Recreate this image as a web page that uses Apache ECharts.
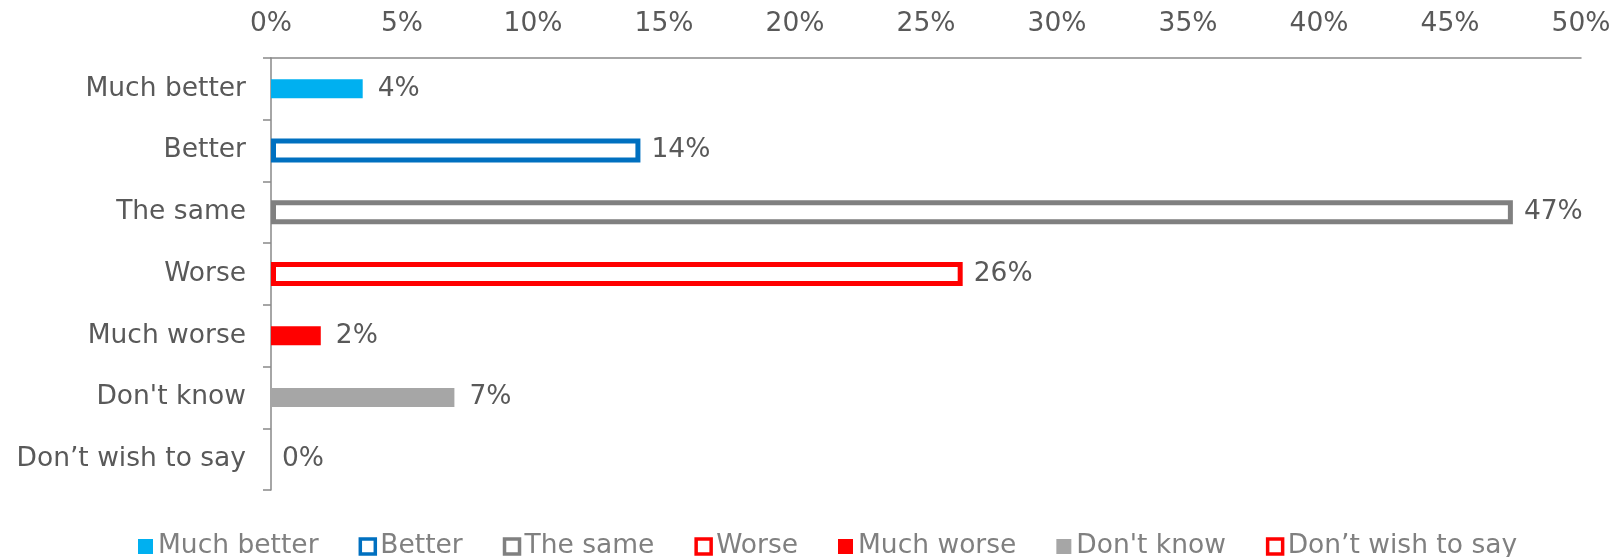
<!DOCTYPE html>
<html>
<head>
<meta charset="utf-8">
<script src="https://cdn.jsdelivr.net/npm/echarts@6/dist/echarts.min.js"></script>
<style>
html,body{margin:0;padding:0;background:#fff;}
#chart{width:1624px;height:557px;}
</style>
</head>
<body>
<div id="chart"></div>
<script>
const categories = ['Much better', 'Better', 'The same', 'Worse', 'Much worse', "Don't know", 'Don\u2019t wish to say'];
const values = [3.5, 14.1, 47.4, 26.4, 1.9, 7.0, 0];
const xTicks = [0, 5, 10, 15, 20, 25, 30, 35, 40, 45, 50];

const fills   = ['#00B0F0', '#FFFFFF', '#FFFFFF', '#FFFFFF', '#FF0000', '#A6A6A6', '#FFFFFF'];
const borders = ['#00B0F0', '#0070C0', '#808080', '#FF0000', '#FF0000', '#A6A6A6', '#FF0000'];
const outlined = [false, true, true, true, false, false, true];

const FONT = 'DejaVu Sans';
const FS = 26.5;
const series = categories.map((name, i) => ({
  name: name,
  type: 'bar',
  yAxisIndex: outlined[i] ? 1 : 0,
  stack: outlined[i] ? 'outlined' : 'filled',
  barWidth: outlined[i] ? 24 : 19,
  itemStyle: outlined[i]
    ? { color: fills[i], borderColor: borders[i], borderWidth: 5 }
    : { color: fills[i], borderWidth: 0 },
  label: {
    show: true,
    position: 'right',
    distance: outlined[i] ? 11 : 15,
    color: '#595959',
    fontFamily: FONT,
    fontSize: FS,
    padding: [5, 0, 0, 0],
    formatter: p => Math.round(p.value) + '%'
  },
  data: values.map((v, j) => j === i
    ? (v === 0 ? { value: v, itemStyle: { borderWidth: 0, borderColor: null } } : v)
    : '-')
}));

const yBase = {
  type: 'category',
  inverse: true,
  data: categories
};

const chart = echarts.init(document.getElementById('chart'));
chart.setOption({
  animation: false,
  grid: { left: 271, right: 43, top: 58, bottom: 67, containLabel: false },
  legend: {
    left: 133,
    top: 528,
    itemWidth: 15,
    itemHeight: 15,
    itemGap: 40,
    icon: 'rect',
    textStyle: { color: '#808080', fontFamily: FONT, fontSize: FS, padding: [0, 0, 0, 0] },
    data: categories.map((name, i) => ({
      name: name,
      itemStyle: outlined[i] ? { borderWidth: 3.5 } : {}
    }))
  },
  xAxis: {
    type: 'value',
    position: 'top',
    min: xTicks[0],
    max: xTicks[xTicks.length - 1],
    interval: xTicks[1] - xTicks[0],
    axisLine: { show: true, lineStyle: { color: '#898989', width: 1.5 } },
    axisTick: { show: false },
    splitLine: { show: false },
    axisLabel: {
      color: '#595959',
      fontFamily: FONT,
      fontSize: FS,
      margin: 20,
      formatter: '{value}%'
    }
  },
  yAxis: [
    Object.assign({}, yBase, {
      axisLine: { show: true, lineStyle: { color: '#898989', width: 1.5 } },
      axisTick: { show: true, length: 8, lineStyle: { color: '#898989', width: 1.5 } },
      axisLabel: {
        color: '#595959',
        fontFamily: FONT,
        fontSize: FS,
        margin: 25,
        padding: [5, 0, 0, 0]
      }
    }),
    Object.assign({}, yBase, {
      position: 'left',
      show: false
    })
  ],
  series: series
});
</script>
</body>
</html>
